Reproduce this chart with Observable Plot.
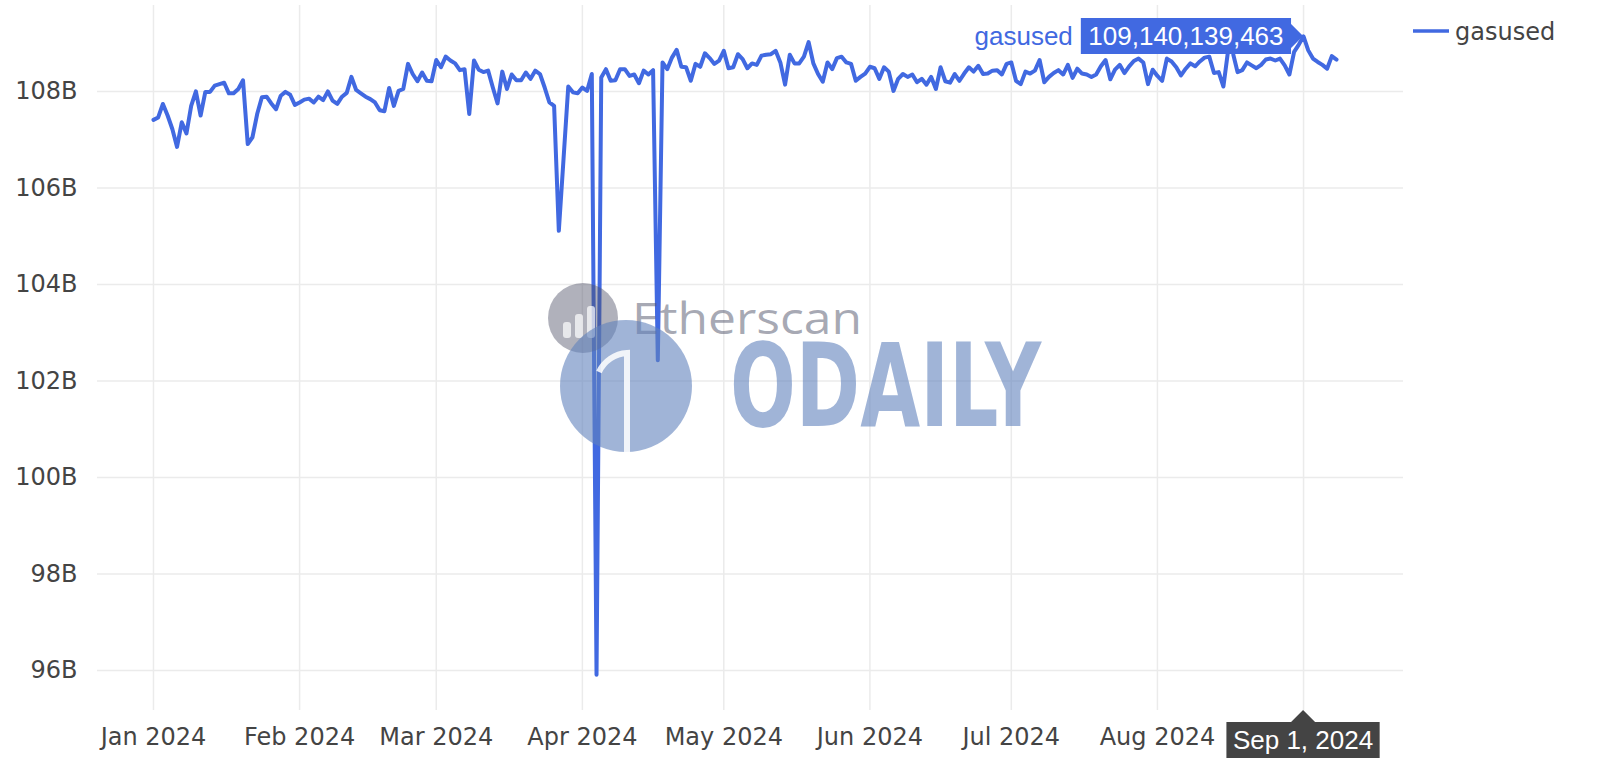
<!DOCTYPE html>
<html><head><meta charset="utf-8">
<script src="https://cdn.jsdelivr.net/npm/d3@7"></script>
<script src="https://cdn.jsdelivr.net/npm/@observablehq/plot@0.6"></script>
<style>
html,body{margin:0;padding:0;background:#fff;}
#wrap{position:relative;width:1600px;height:776px;overflow:hidden;background:#fff;}
#wrap svg{display:block;}
.overlay{position:absolute;left:0;top:0;pointer-events:none;}
</style></head><body><div id="wrap"></div>
<script>
// ---- data (values in billions of gas, one per day starting Jan 1, 2024) ----
const seriesName = "gasused";
const startDate = "2024-01-01";
const jan = [107.41,107.46,107.74,107.50,107.22,106.85,107.36,107.13,107.70,108.00,107.50,107.99,107.99,108.12,108.15,108.18,107.96,107.96,108.05,108.23,106.91,107.05,107.53,107.88,107.89,107.75,107.63,107.91,107.99,107.93,107.72];
const feb = [107.77,107.83,107.85,107.77,107.89,107.82,108.00,107.81,107.74,107.89,107.97,108.30,108.03,107.96,107.89,107.84,107.77,107.61,107.59,108.07,107.70,108.01,108.05,108.57,108.36,108.21,108.39,108.22,108.21];
const mar = [108.65,108.50,108.72,108.64,108.58,108.44,108.46,107.53,108.64,108.45,108.40,108.43,108.08,107.75,108.41,108.05,108.35,108.23,108.23,108.39,108.26,108.43,108.36,108.08,107.77,107.70,105.11,106.60,108.10,107.98,107.96];
const apr = [108.08,108.01,108.36,95.91,108.29,108.46,108.22,108.23,108.46,108.46,108.32,108.35,108.17,108.43,108.35,108.44,102.43,108.60,108.46,108.70,108.86,108.51,108.50,108.22,108.57,108.51,108.79,108.69,108.57,108.64];
const may = [108.84,108.48,108.50,108.77,108.67,108.48,108.58,108.55,108.74,108.76,108.77,108.84,108.60,108.14,108.76,108.58,108.58,108.72,109.02,108.58,108.36,108.20,108.60,108.46,108.69,108.72,108.60,108.57,108.22,108.30,108.37];
const jun = [108.51,108.48,108.26,108.50,108.41,108.01,108.26,108.36,108.30,108.35,108.19,108.26,108.14,108.30,108.05,108.50,108.21,108.18,108.36,108.22,108.37,108.50,108.41,108.53,108.36,108.37,108.43,108.44,108.35,108.57];
const jul = [108.60,108.22,108.15,108.41,108.37,108.43,108.65,108.19,108.30,108.38,108.44,108.35,108.55,108.28,108.47,108.37,108.35,108.30,108.35,108.52,108.65,108.25,108.45,108.55,108.38,108.52,108.63,108.68,108.60,108.15,108.45];
const aug = [108.32,108.22,108.68,108.62,108.50,108.33,108.47,108.58,108.52,108.62,108.70,108.72,108.38,108.40,108.10,108.85,108.80,108.40,108.44,108.60,108.54,108.48,108.55,108.66,108.68,108.64,108.68,108.54,108.35,108.82,108.97];
const sep = [109.140139463,108.85,108.68,108.61,108.55,108.47,108.73,108.66];
const monthTicks = ["2024-01-01","2024-02-01","2024-03-01","2024-04-01","2024-05-01","2024-06-01","2024-07-01","2024-08-01","2024-09-01"];
const yTicks = [96,98,100,102,104,106,108];
const hoverDate = "2024-09-01";
const hoverValue = 109140139463;

const values = [...jan,...feb,...mar,...apr,...may,...jun,...jul,...aug,...sep];
const data = values.map((v,i) => ({date: d3.utcDay.offset(new Date(startDate), i), value: v}));
const tickDates = monthTicks.map(d => new Date(d));
const hoverTime = +new Date(hoverDate);

const blue = "#4169e1";
const chart = Plot.plot({
  width: 1600, height: 776,
  marginLeft: 97, marginRight: 197, marginTop: 5, marginBottom: 66,
  style: {fontFamily: "'DejaVu Sans', sans-serif", fontSize: "24px", color: "#444", background: "#fff"},
  x: {type: "utc", domain: [new Date("2023-12-20T03:00:00Z"), new Date("2024-09-22T05:00:00Z")],
      ticks: tickDates, tickFormat: d => (+d === hoverTime ? "" : d3.utcFormat("%b %Y")(d)),
      tickSize: 0, tickPadding: 17, label: null},
  y: {domain: [95.17, 109.78], ticks: yTicks, tickFormat: d => d + "B", tickSize: 0, tickPadding: 20, label: null},
  marks: [
    Plot.ruleX(tickDates, {stroke: "#ebebeb", strokeWidth: 1.5}),
    Plot.ruleY(yTicks, {stroke: "#ebebeb", strokeWidth: 1.5}),
    Plot.lineY(data, {x: "date", y: "value", stroke: blue, strokeWidth: 4, strokeLinejoin: "round"})
  ]
});
document.getElementById("wrap").appendChild(chart);

// ---- overlay: watermark, hover labels, legend ----
const ov = d3.select("#wrap").append("svg").attr("class","overlay").attr("width",1600).attr("height",776);
const gray = "rgb(80,83,105)", wblue = "rgb(97,130,188)";
// Etherscan watermark
ov.append("circle").attr("cx",583).attr("cy",318).attr("r",35).attr("fill",gray).attr("fill-opacity",0.45);
[[567,322,16],[579,314,24],[591,306,32]].forEach(([x,y,h]) => {
  ov.append("rect").attr("x",x-4).attr("y",y).attr("width",8).attr("height",h).attr("rx",3).attr("fill","#fff").attr("fill-opacity",0.7);
});
ov.append("text").attr("x",632).attr("y",334).attr("font-family","'Open Sans', sans-serif").attr("font-size",44)
  .attr("fill",gray).attr("fill-opacity",0.5).attr("textLength",230).attr("lengthAdjust","spacingAndGlyphs").text("Etherscan");
// ODAILY watermark
ov.append("circle").attr("cx",626).attr("cy",386).attr("r",66).attr("fill",wblue).attr("fill-opacity",0.6);
ov.append("path").attr("d","M599,372 A33,33 0 0 1 627,353 V452").attr("fill","none").attr("stroke","#fff").attr("stroke-width",6).attr("stroke-opacity",0.85);
ov.append("text").attr("x",730).attr("y",426).attr("font-family","'DejaVu Sans Condensed','Liberation Sans Narrow','DejaVu Sans',sans-serif")
  .attr("font-weight","bold").attr("font-size",116).attr("fill",wblue).attr("fill-opacity",0.6)
  .attr("textLength",311).attr("lengthAdjust","spacingAndGlyphs").text("ODAILY");

// hover labels
const sx = chart.scale("x"), sy = chart.scale("y");
const hx = sx.apply(new Date(hoverDate)), hy = sy.apply(hoverValue / 1e9);
const bottom = 776 - 66;
const hv = ov.append("g");
const vPath = hv.append("path").attr("fill", blue);
const vText = hv.append("text").attr("fill","#fff").attr("font-family","'Liberation Sans', Arial, sans-serif")
  .attr("font-size",26).attr("text-anchor","middle").attr("dy","0.36em").text(d3.format(",")(hoverValue));
const tw = vText.node().getComputedTextLength();
const bw = tw + 15;
vPath.attr("d", `M${hx},${hy} L${hx-12},${hy-12} V${hy-18} H${hx-12-bw} V${hy+18} H${hx-12} V${hy+12} Z`);
vText.attr("x", hx-12-bw/2).attr("y", hy);
hv.append("text").attr("x", hx-12-bw-8).attr("y", hy).attr("dy","0.36em").attr("text-anchor","end")
  .attr("fill", blue).attr("font-family","'Liberation Sans', Arial, sans-serif").attr("font-size",26).text(seriesName);

const xPath = hv.append("path").attr("fill","#444");
const xText = hv.append("text").attr("fill","#fff").attr("font-family","'Liberation Sans', Arial, sans-serif")
  .attr("font-size",26).attr("text-anchor","middle").attr("dy","0.36em").attr("x",hx).attr("y",bottom+30)
  .text(d3.utcFormat("%b %-d, %Y")(new Date(hoverDate)));
const xw = xText.node().getComputedTextLength() + 13;
xPath.attr("d", `M${hx},${bottom} L${hx+12},${bottom+12} H${hx+xw/2} V${bottom+48} H${hx-xw/2} V${bottom+12} H${hx-12} Z`);

// legend
ov.append("line").attr("x1",1413).attr("x2",1449).attr("y1",31).attr("y2",31).attr("stroke",blue).attr("stroke-width",3.5);
ov.append("text").attr("x",1455).attr("y",31).attr("dy","0.36em").attr("fill","#444")
  .attr("font-family","'DejaVu Sans', sans-serif").attr("font-size",24).text(seriesName);
</script>
</body></html>
